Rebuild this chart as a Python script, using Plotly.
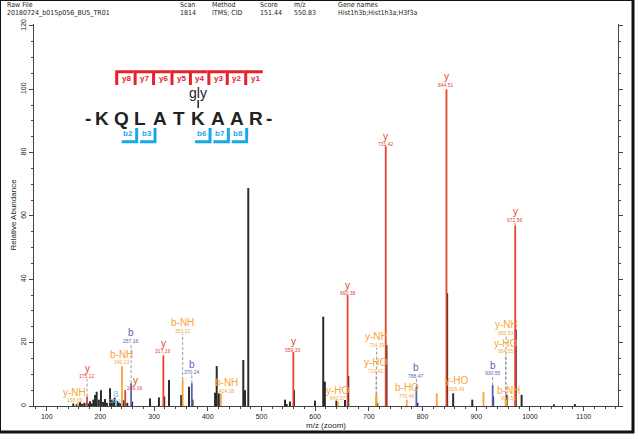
import plotly.graph_objects as go

# ---- header info ----
header_titles = ["Raw File", "Scan", "Method", "Score", "m/z", "Gene names"]
header_values = ["20180724_b015p056_BU5_TR01", "1814", "ITMS; CID", "151.44", "550.83",
                 "Hist1h3b;Hist1h3a;H3f3a"]

# ---- peptide ----
sequence = "KQLATKAAR"
y_ions_shown = [8, 7, 6, 5, 4, 3, 2, 1]
b_ions_shown = [2, 3, 6, 7, 8]
mod_site = 6
mod_name = "gly"

# ---- unannotated peaks (m/z, relative abundance) ----
other_mz = [149.5, 156.0, 162.0, 166.0, 170.0, 174.5, 177.0, 180.6, 184.0, 186.8, 190.0, 193.0,
            197.0, 201.0, 205.0, 208.6, 212.0, 217.9, 221.0, 224.0, 226.5, 231.0, 234.0, 237.0,
            243.0, 250.0, 259.0, 292.4, 309.0, 318.8, 327.8, 350.5, 365.0, 371.5, 413.5, 416.6,
            420.5, 466.1, 469.3, 475.4, 543.8, 547.0, 553.0, 560.5, 599.6, 615.0, 618.0, 639.5,
            655.5, 661.6, 715.6, 732.8, 790.5, 845.8, 857.0, 892.6, 931.5, 956.5, 973.6, 984.5,
            1044.7, 1083.8]
other_int = [0.8, 0.6, 1.2, 0.7, 1.0, 1.0, 0.8, 1.5, 0.8, 2.0, 3.5, 4.5,
             2.0, 5.0, 1.3, 2.2, 1.0, 5.6, 2.0, 1.5, 2.6, 1.6, 1.2, 0.8,
             1.8, 1.0, 1.4, 2.4, 2.7, 3.0, 8.2, 3.5, 6.1, 2.0, 4.2, 12.6,
             4.0, 14.5, 5.0, 68.8, 2.0, 0.6, 1.4, 5.0, 1.7, 28.2, 7.7, 1.7,
             1.9, 9.5, 1.0, 19.2, 1.0, 35.6, 4.0, 2.0, 3.0, 3.5, 24.2, 3.5,
             0.5, 0.6]

# ---- annotated fragment ions ----
ion_type = ["y-NH", "y", "a", "b-NH", "y", "b", "y", "b-NH", "b", "b-NH", "y", "y-HO", "y",
            "y-NH", "y-HO", "y", "b-HO", "b", "y-HO", "y", "b-NH", "b", "y-HO", "y-NH", "y"]
ion_mz = [158.09, 175.12, 229.16, 240.13, 246.16, 257.16, 317.19, 353.22, 370.24, 424.26,
          559.33, 642.37, 660.38, 714.39, 713.41, 731.42, 770.46, 788.47, 826.49, 844.51,
          913.52, 930.55, 954.55, 955.53, 972.56]
ion_int = [1.0, 3.0, 2.0, 12.6, 5.0, 7.2, 16.0, 8.2, 7.2, 4.0,
           17.0, 1.5, 35.0, 3.6, 3.6, 82.0, 2.0, 6.0, 4.0, 100.0,
           4.5, 6.6, 2.0, 2.0, 57.0]
# label placement (layout): height of label in data units and x shift in px
label_y = [4.4, 11.9, 4.0, 16.4, 8.2, 23.1, 19.8, 26.3, 13.2, 7.4,
           20.3, 5.0, 38.2, 21.9, 13.7, 85.2, 5.7, 12.1, 7.9, 103.9,
           5.0, 12.9, 19.8, 25.6, 61.3]
label_dx = [-3, 0, 0, 0, 10, 0, 0, 0, 0, 6,
            0, 0, 0, 0, 0, 0, 0, 0, 20, 0,
            25, 0, 0, 0, 0]

COLORS = {"y": "#e8412c", "b": "#5566b0", "a": "#7fc6e6", "loss": "#f7a537"}
SANS = "Liberation Sans, Arial, Helvetica, sans-serif"
NARROW = "DejaVu Sans Condensed, Liberation Sans Narrow, Arial Narrow, sans-serif"


def ion_color(t):
    if "-" in t:
        return COLORS["loss"]
    return COLORS[t[0]]


W, H = 638, 439
L, R, T, B = 34, 618, 24, 406
XR = [76.3, 1164.0]
YR = [0, 120.6]
MZ_PER_PX = (XR[1] - XR[0]) / (R - L)
INT_PER_PX = (YR[1] - YR[0]) / (B - T)


def px(x):
    return (x - L) / (R - L)


def py(y):
    return (B - y) / (B - T)


def stems(xs, ys):
    sx, sy = [], []
    for x, y in zip(xs, ys):
        sx += [x, x, None]
        sy += [0, y, None]
    return sx, sy


fig = go.Figure()

sx, sy = stems(other_mz, other_int)
fig.add_trace(go.Scatter(x=sx, y=sy, mode="lines", line=dict(color="#2a2a2a", width=2),
                         hoverinfo="skip", showlegend=False))

for key in ["loss", "a", "b", "y"]:
    xs = [m for m, t in zip(ion_mz, ion_type) if ion_color(t) == COLORS[key]]
    ys = [v for v, t in zip(ion_int, ion_type) if ion_color(t) == COLORS[key]]
    sx, sy = stems(xs, ys)
    fig.add_trace(go.Scatter(x=sx, y=sy, mode="lines", line=dict(color=COLORS[key], width=1.8),
                             hoverinfo="skip", showlegend=False))

annotations = []
shapes = []

# ion labels + dashed leaders
lead_x, lead_y = [], []
for t, m, h, ly, dx in zip(ion_type, ion_mz, ion_int, label_y, label_dx):
    c = ion_color(t)
    lx = m + dx * MZ_PER_PX
    annotations.append(dict(x=lx, y=ly, xref="x", yref="y", text=t, showarrow=False,
                            font=dict(size=10, color=c, family=SANS),
                            xanchor="center", yanchor="middle"))
    annotations.append(dict(x=lx, y=ly, xref="x", yref="y", text=f"{m:.2f}", showarrow=False,
                            yshift=-8, font=dict(size=5, color=c, family=SANS),
                            xanchor="center", yanchor="middle"))
    bottom = ly - 11 * INT_PER_PX
    if bottom - h > 0.8:
        lead_x += [m, lx, lx, None]
        lead_y += [h, h, bottom, None]

fig.add_trace(go.Scatter(x=lead_x, y=lead_y, mode="lines",
                         line=dict(color="#9a9a9a", width=1, dash="3px,2px"),
                         hoverinfo="skip", showlegend=False))

# ---- header ----
header_x = [5, 178, 210, 258, 292, 336]
for hx, ht, hv in zip(header_x, header_titles, header_values):
    for txt, yy in [(ht, 5.5), (hv, 13)]:
        annotations.append(dict(x=px(hx), y=py(yy), xref="paper", yref="paper", text=txt,
                                showarrow=False, xanchor="left", yanchor="middle",
                                font=dict(size=7, color="#222", family=NARROW)))

# ---- peptide sequence diagram ----
RED_B, BLUE_B = "#e8202a", "#18a8e8"
seq_y = 118
letter_x = [101.7 + i * 19.3 for i in range(len(sequence))]
for ch, lx in zip("-" + sequence + "-", [88.3] + letter_x + [269.3]):
    annotations.append(dict(x=px(lx), y=py(seq_y), xref="paper", yref="paper", text=f"<b>{ch}</b>",
                            showarrow=False, xanchor="center", yanchor="middle",
                            font=dict(size=19, color="#222", family=SANS)))
mx = letter_x[mod_site - 1]
annotations.append(dict(x=px(mx), y=py(93), xref="paper", yref="paper", text=mod_name,
                        showarrow=False, xanchor="center", yanchor="middle",
                        font=dict(size=14, color="#222", family=SANS)))
shapes.append(dict(type="line", xref="paper", yref="paper", x0=px(mx), x1=px(mx),
                   y0=py(100), y1=py(108), line=dict(color="#222", width=1.5)))

for k in y_ions_shown:
    left = 116.7 + (8 - k) * 18.43
    shapes.append(dict(type="path", xref="paper", yref="paper",
                       path=f"M {px(left)} {py(85)} L {px(left)} {py(71.7)} L {px(left + 17)} {py(71.7)}",
                       line=dict(color=RED_B, width=3)))
    annotations.append(dict(x=px(left + 9.5), y=py(79), xref="paper", yref="paper",
                            text=f"<b>y{k}</b>", showarrow=False, xanchor="center", yanchor="middle",
                            font=dict(size=8, color=RED_B, family=SANS)))

for k in b_ions_shown:
    right = 136.7 + (k - 2) * 18.33
    shapes.append(dict(type="path", xref="paper", yref="paper",
                       path=f"M {px(right - 15)} {py(141.7)} L {px(right)} {py(141.7)} L {px(right)} {py(128)}",
                       line=dict(color=BLUE_B, width=3)))
    annotations.append(dict(x=px(right - 8.5), y=py(133.5), xref="paper", yref="paper",
                            text=f"<b>b{k}</b>", showarrow=False, xanchor="center", yanchor="middle",
                            font=dict(size=8, color=BLUE_B, family=SANS)))

# ---- outer frame ----
shapes += [
    dict(type="line", xref="paper", yref="paper", x0=px(0), x1=px(634), y0=py(432), y1=py(432),
         line=dict(color="#111", width=3)),
    dict(type="line", xref="paper", yref="paper", x0=px(633), x1=px(633), y0=py(0), y1=py(433),
         line=dict(color="#111", width=3)),
    dict(type="line", xref="paper", yref="paper", x0=px(0), x1=px(633), y0=py(0.5), y1=py(0.5),
         line=dict(color="#111", width=1)),
    dict(type="line", xref="paper", yref="paper", x0=px(0.5), x1=px(0.5), y0=py(0), y1=py(432),
         line=dict(color="#111", width=1)),
]

fig.update_layout(
    width=W, height=H,
    margin=dict(l=L, r=W - R, t=T, b=H - B, autoexpand=False),
    paper_bgcolor="white", plot_bgcolor="white",
    showlegend=False,
    annotations=annotations,
    shapes=shapes,
    xaxis=dict(range=XR, tick0=0, dtick=100, ticks="outside", ticklen=4, tickwidth=1,
               tickcolor="#444", showline=True, linecolor="#444", linewidth=1,
               showgrid=False, zeroline=False, automargin=False,
               tickfont=dict(size=7, color="#222", family=SANS),
               minor=dict(dtick=20, ticks="outside", ticklen=2, tickcolor="#444"),
               title=dict(text="m/z (zoom)", standoff=2,
                          font=dict(size=8, color="#222", family=SANS))),
    yaxis=dict(range=YR, tick0=0, dtick=20, ticks="outside", ticklen=4, tickwidth=1,
               tickcolor="#444", showline=True, linecolor="#444", linewidth=1, mirror="ticks",
               showgrid=False, zeroline=False, tickangle=-90, automargin=False,
               tickfont=dict(size=7, color="#222", family=SANS),
               minor=dict(dtick=5, ticks="outside", ticklen=2, tickcolor="#444"),
               title=dict(text="Relative Abundance", standoff=2,
                          font=dict(size=8, color="#222", family=SANS))),
)

# the page's default body margin would push the figure 8px right/down
fig.write_html("out.html", config={"displayModeBar": False},
               post_script="document.body.style.margin='0';")
